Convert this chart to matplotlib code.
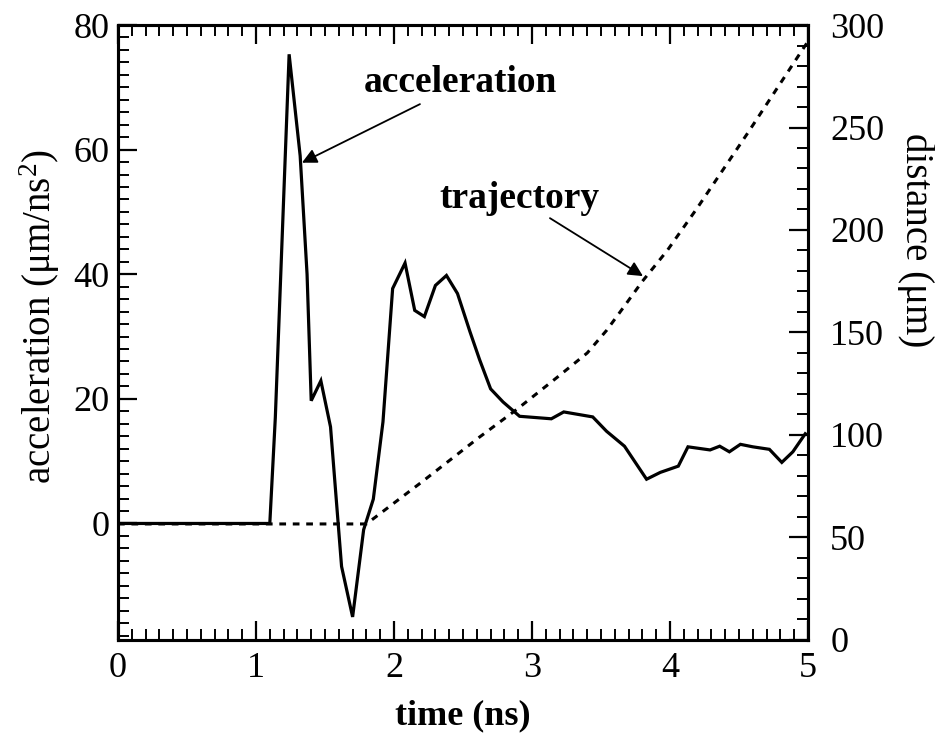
import numpy as np
import matplotlib.pyplot as plt
from matplotlib.ticker import MultipleLocator

# acceleration (left axis)
t_acc = [0.0, 1.10, 1.14, 1.24, 1.32, 1.37, 1.40, 1.47, 1.54, 1.62, 1.70, 1.78, 1.85, 1.92,
         1.99, 2.08, 2.15, 2.22, 2.30, 2.38, 2.46, 2.55, 2.62, 2.70, 2.79, 2.91, 3.14,
         3.23, 3.44, 3.54, 3.67, 3.83, 3.93, 4.06, 4.13, 4.29, 4.36, 4.43, 4.51, 4.60,
         4.72, 4.81, 4.89, 4.98]
acc = [0.0, 0.0, 17.0, 75.3, 59.0, 40.0, 19.7, 22.9, 15.5, -6.9, -15.0, -1.0, 3.9, 16.3,
       37.7, 41.8, 34.2, 33.2, 38.2, 39.8, 36.9, 30.8, 26.3, 21.6, 19.5, 17.2, 16.8,
       17.9, 17.1, 14.8, 12.4, 7.1, 8.2, 9.2, 12.3, 11.8, 12.4, 11.5, 12.7, 12.3,
       11.9, 9.8, 11.5, 14.4]

# trajectory (right axis)
t_traj = [0.0, 1.80, 2.20, 2.62, 2.89, 3.18, 3.40, 3.54, 3.66, 3.80, 3.98, 4.20, 4.56, 4.96, 5.0]
dist = [56.6, 56.6, 77.0, 99.0, 112.5, 128.0, 140.0, 151.0, 162.0, 175.0, 190.0, 211.0, 247.0, 288.0, 292.0]

plt.rcParams['font.family'] = ['Liberation Serif', 'DejaVu Serif']
plt.rcParams['mathtext.fontset'] = 'custom'
plt.rcParams['mathtext.rm'] = 'Liberation Serif'
plt.rcParams['mathtext.it'] = 'Liberation Serif:italic'

fig = plt.figure(figsize=(9.35, 7.42), dpi=100)
ax = fig.add_axes([0.1262, 0.1375, 0.738, 0.8288])
ax2 = ax.twinx()

ax.plot(t_acc, acc, color='black', lw=2.3, solid_joinstyle='miter', zorder=3)
ax2.plot(t_traj, dist, color='black', lw=2.2, linestyle=(0, (2.2, 2.2)))

ax.set_xlim(0, 5)
ax.set_ylim(-18.7, 80)
ax2.set_ylim(0, 300)

ax.xaxis.set_major_locator(MultipleLocator(1))
ax.xaxis.set_minor_locator(MultipleLocator(0.1))
ax.yaxis.set_major_locator(MultipleLocator(20))
ax.yaxis.set_minor_locator(MultipleLocator(2))
ax2.yaxis.set_major_locator(MultipleLocator(50))
ax2.yaxis.set_minor_locator(MultipleLocator(10))

ax.tick_params(axis='x', which='both', direction='in', top=True, bottom=True, labelsize=26, pad=9)
ax.tick_params(axis='y', which='both', direction='in', left=True, right=False, labelsize=26, pad=6)
ax2.tick_params(axis='y', which='both', direction='in', right=True, left=False, labelsize=26, pad=16)
for a in (ax, ax2):
    a.tick_params(which='major', length=14, width=1.6)
    a.tick_params(which='minor', length=8, width=1.4)
    for s in a.spines.values():
        s.set_linewidth(2.2)

ax.set_xlabel('time (ns)', fontsize=26, fontweight='bold', labelpad=10)
# y labels placed directly in figure coordinates
fig.text(40 / 935, 1 - 316 / 742, 'acceleration (μm/ns$^2$)', fontsize=28,
         rotation=90, ha='center', va='center')
fig.text(916 / 935, 1 - 240 / 742, 'distance (μm)', fontsize=28,
         rotation=270, ha='center', va='center')

ax.text(2.478, 69.2, 'acceleration', fontsize=27, fontweight='bold', ha='center', va='baseline')
ax.text(2.906, 50.6, 'trajectory', fontsize=27, fontweight='bold', ha='center', va='baseline')
arrow = dict(arrowstyle='-|>', color='black', lw=1.3, mutation_scale=22, shrinkA=0, shrinkB=0)
ax.annotate('', xy=(1.333, 57.9), xytext=(2.188, 67.3), arrowprops=arrow)
ax.annotate('', xy=(3.804, 39.7), xytext=(3.13, 49.0), arrowprops=arrow)

fig.savefig('out.png', dpi=100)
